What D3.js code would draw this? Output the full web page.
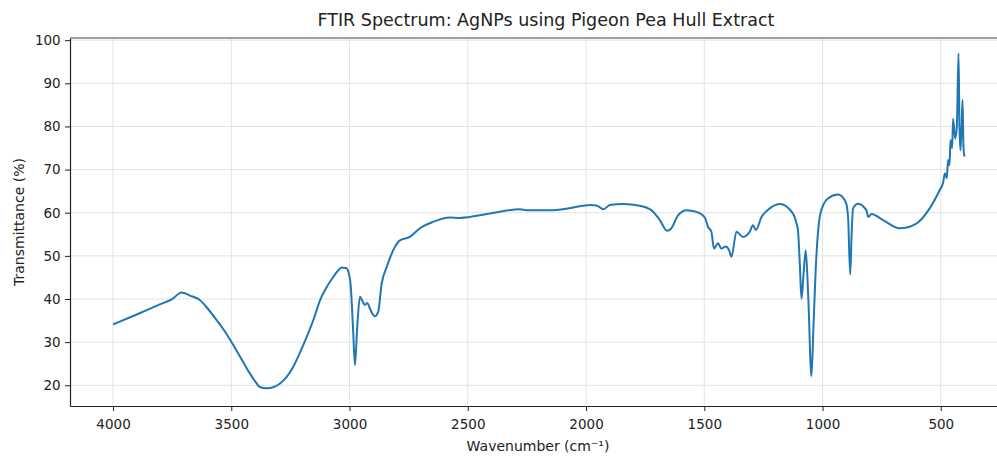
<!DOCTYPE html>
<html lang="en">
<head>
<meta charset="utf-8">
<title>FTIR Spectrum: AgNPs using Pigeon Pea Hull Extract</title>
<script src="https://d3js.org/d3.v7.min.js"></script>
<style>
  body { margin: 0; background: #fff; }
  svg { display: block; overflow: hidden; }
  text { font-family: "DejaVu Sans", sans-serif; fill: #222; }
</style>
</head>
<body>
<div id="chart"></div>
<script>
// wavenumbers (cm-1)
var wavenumber = [4000, 3900, 3800, 3750, 3710, 3675, 3632, 3600, 3562, 3525, 3491, 3455, 3421, 3395, 3379, 3350, 3320, 3294, 3265, 3238, 3210, 3181, 3150, 3125, 3095, 3069, 3050, 3033, 3015, 3005, 2995, 2985, 2977, 2968, 2956, 2945, 2935, 2925, 2914, 2900, 2893, 2879, 2864, 2843, 2808, 2787, 2745, 2702, 2646, 2576, 2533, 2407, 2280, 2252, 2139, 2013, 1984, 1956, 1927, 1899, 1843, 1773, 1724, 1688, 1657, 1639, 1611, 1575, 1533, 1498, 1484, 1470, 1459, 1442, 1428, 1409, 1395, 1385, 1364, 1336, 1308, 1294, 1282, 1258, 1223, 1181, 1125, 1110, 1104, 1096, 1089, 1080, 1071, 1060, 1047, 1038, 1029, 1012, 995, 977, 934, 902, 892, 883, 877, 871, 850, 815, 806, 793, 744, 674, 603, 547, 505, 490, 483, 475, 469, 463, 459, 452, 448, 439, 432, 425, 421, 417, 412, 408, 404, 400];
// transmittance (%)
var transmittance = [34.1, 36.4, 38.8, 40.0, 41.5, 40.8, 39.7, 37.8, 35.1, 32.3, 29.3, 25.9, 22.7, 20.6, 19.6, 19.3, 19.6, 20.4, 22.0, 24.3, 27.5, 31.2, 35.6, 39.7, 42.9, 45.1, 46.5, 47.3, 47.2, 46.3, 43.0, 33.0, 24.7, 33.0, 40.5, 39.5, 38.6, 39.1, 37.8, 36.3, 36.0, 37.0, 43.6, 47.4, 52.1, 53.6, 54.4, 56.4, 57.9, 58.9, 58.8, 59.8, 60.8, 60.6, 60.6, 61.6, 61.8, 61.7, 60.8, 61.8, 62.0, 61.6, 60.6, 58.3, 55.8, 56.4, 59.4, 60.6, 60.2, 58.9, 56.7, 55.6, 51.7, 52.9, 51.7, 52.2, 51.3, 49.8, 55.6, 54.4, 55.6, 57.1, 56.0, 59.0, 61.0, 62.0, 59.8, 57.5, 56.0, 48.0, 40.1, 46.0, 51.3, 40.0, 22.1, 34.0, 46.7, 59.0, 62.0, 63.3, 64.2, 62.5, 59.0, 45.7, 55.0, 61.0, 62.1, 60.6, 59.0, 59.7, 58.3, 56.4, 57.5, 61.0, 65.2, 67.0, 69.1, 68.0, 72.2, 71.0, 76.8, 75.0, 81.8, 77.2, 80.0, 96.9, 80.0, 74.5, 80.0, 86.1, 75.0, 73.0];
var xTicks = [4000, 3500, 3000, 2500, 2000, 1500, 1000, 500];
var yTicks = [20, 30, 40, 50, 60, 70, 80, 90, 100];

var spectrum = wavenumber.map(function(w, i) { return { w: w, t: transmittance[i] }; });

var svgWidth = 997, svgHeight = 456;
var margin = { top: 38, left: 70, bottom: 50 };
var plotRight = 1007; // the plot runs past the window edge

var svg = d3.select("#chart").append("svg")
    .attr("width", svgWidth)
    .attr("height", svgHeight);

var x = d3.scaleLinear().domain([4182, 220]).range([margin.left, plotRight]);
var y = d3.scaleLinear().domain([15.2, 100.5]).range([svgHeight - margin.bottom, margin.top]);

// grid
svg.append("g").selectAll("line").data(xTicks).enter().append("line")
    .attr("x1", function(d) { return x(d); }).attr("x2", function(d) { return x(d); })
    .attr("y1", margin.top).attr("y2", svgHeight - margin.bottom)
    .attr("stroke", "#e3e3e3").attr("stroke-width", 1);
svg.append("g").selectAll("line").data(yTicks).enter().append("line")
    .attr("x1", margin.left).attr("x2", plotRight)
    .attr("y1", function(d) { return y(d); }).attr("y2", function(d) { return y(d); })
    .attr("stroke", "#e3e3e3").attr("stroke-width", 1);

// spectrum line
var line = d3.line()
    .x(function(d) { return x(d.w); })
    .y(function(d) { return y(d.t); })
    .curve(d3.curveMonotoneX);

svg.append("path")
    .datum(spectrum)
    .attr("d", line)
    .attr("fill", "none")
    .attr("stroke", "#1f77b4")
    .attr("stroke-width", 2)
    .attr("stroke-linejoin", "round");

// axes
var xAxis = svg.append("g")
    .attr("transform", "translate(0," + (svgHeight - margin.bottom) + ")")
    .call(d3.axisBottom(x).tickValues(xTicks).tickFormat(d3.format("d")).tickSize(5).tickSizeOuter(0));
var yAxis = svg.append("g")
    .attr("transform", "translate(" + margin.left + ",0)")
    .call(d3.axisLeft(y).tickValues(yTicks).tickFormat(d3.format("d")).tickSize(5).tickSizeOuter(0));

[xAxis, yAxis].forEach(function(a) {
    a.select(".domain").attr("stroke", "#222").attr("stroke-width", 1.2);
    a.selectAll(".tick line").attr("stroke", "#222");
    a.selectAll(".tick text").attr("font-size", "13.5px").attr("fill", "#222")
        .style("font-family", "'DejaVu Sans', sans-serif");
});
xAxis.selectAll(".tick text").attr("dy", "1.1em");
yAxis.selectAll(".tick text").attr("dx", "-0.1em");

// top spine
svg.append("line")
    .attr("x1", margin.left).attr("x2", plotRight)
    .attr("y1", margin.top).attr("y2", margin.top)
    .attr("stroke", "#444").attr("stroke-width", 1);

// title and labels
svg.append("text")
    .attr("x", 546).attr("y", 26)
    .attr("text-anchor", "middle")
    .attr("font-size", "17.5px")
    .text("FTIR Spectrum: AgNPs using Pigeon Pea Hull Extract");

svg.append("text")
    .attr("x", 538).attr("y", 451)
    .attr("text-anchor", "middle")
    .attr("font-size", "14px")
    .text("Wavenumber (cm\u207B\u00B9)");

svg.append("text")
    .attr("transform", "translate(24," + ((margin.top + svgHeight - margin.bottom) / 2) + ") rotate(-90)")
    .attr("text-anchor", "middle")
    .attr("font-size", "14px")
    .text("Transmittance (%)");
</script>
</body>
</html>
